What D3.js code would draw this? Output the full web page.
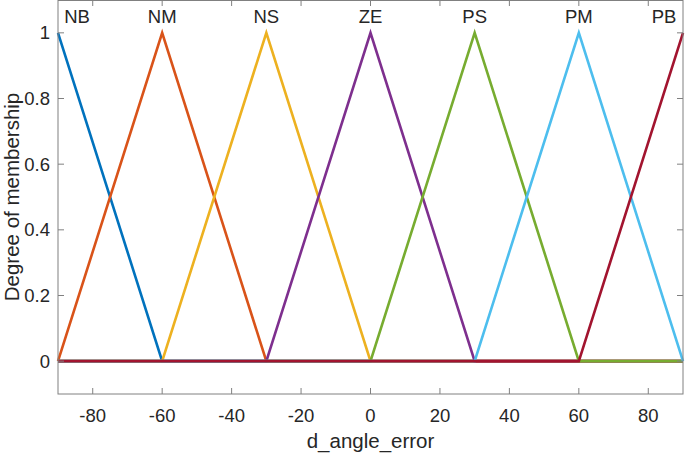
<!DOCTYPE html>
<html><head><meta charset="utf-8">
<script src="https://cdn.jsdelivr.net/npm/d3@7/dist/d3.min.js"></script>
<style>body{margin:0;background:#fff}text{font-family:"Liberation Sans",Arial,sans-serif;fill:#262626}</style>
</head><body><svg id="c" width="685" height="453"></svg>
<script>
const setNames = ["NB","NM","NS","ZE","PS","PM","PB"];
const setPeaks = [-90,-60,-30,0,30,60,90];
const colors = ["#0072BD","#D95319","#EDB120","#7E2F8E","#77AC30","#4DBEEE","#A2142F"];
// membership function vertices [x, degree]
const NB = [[-90,1],[-60,0],[90,0]];
const NM = [[-90,0],[-60,1],[-30,0],[90,0]];
const NS = [[-90,0],[-60,0],[-30,1],[0,0],[90,0]];
const ZE = [[-90,0],[-30,0],[0,1],[30,0],[90,0]];
const PS = [[-90,0],[0,0],[30,1],[60,0],[90,0]];
const PM = [[-90,0],[30,0],[60,1],[90,0]];
const PB = [[-90,0],[60,0],[90,1]];
const series = [NB,NM,NS,ZE,PS,PM,PB];
const xTicks = [-80,-60,-40,-20,0,20,40,60,80];
const yTicks = [0,0.2,0.4,0.6,0.8,1];

const L=58,R=683,T=0,B=394;
const x=d3.scaleLinear().domain([-90,90]).range([L,R]);
const y=d3.scaleLinear().domain([-0.1,1.1]).range([B,T]);
const svg=d3.select("#c");
const axCol="#808080";

const line=d3.line().x(d=>x(d[0])).y(d=>y(d[1]));
series.forEach((s,i)=>{
  svg.append("path").attr("d",line(s)).attr("fill","none").attr("stroke",colors[i]).attr("stroke-width",2.6).attr("stroke-linejoin","miter");
});

svg.append("rect").attr("x",L).attr("y",T+0.5).attr("width",R-L).attr("height",B-T-0.5).attr("fill","none").attr("stroke",axCol).attr("stroke-width",1);
const tl=6;
xTicks.forEach(t=>{
  svg.append("line").attr("x1",x(t)).attr("x2",x(t)).attr("y1",B).attr("y2",B-tl).attr("stroke",axCol);
  svg.append("line").attr("x1",x(t)).attr("x2",x(t)).attr("y1",T).attr("y2",T+tl).attr("stroke",axCol);
  svg.append("text").attr("x",x(t)).attr("y",B+28).attr("text-anchor","middle").attr("font-size",18.5).text(t);
});
yTicks.forEach(t=>{
  svg.append("line").attr("x1",L).attr("x2",L+tl).attr("y1",y(t)).attr("y2",y(t)).attr("stroke",axCol);
  svg.append("line").attr("x1",R).attr("x2",R-tl).attr("y1",y(t)).attr("y2",y(t)).attr("stroke",axCol);
  svg.append("text").attr("x",L-8).attr("y",y(t)).attr("dy","0.35em").attr("text-anchor","end").attr("font-size",18.5).text(t);
});
setNames.forEach((n,i)=>{
  const w=n.length*13;
  let cx=x(setPeaks[i]);
  cx=Math.max(L+w/2+6,Math.min(R-w/2-6,cx));
  svg.append("text").attr("x",cx).attr("y",y(1.05)).attr("dy","0.35em").attr("text-anchor","middle").attr("font-size",18.5).text(n);
});
svg.append("text").attr("x",(L+R)/2).attr("y",448).attr("text-anchor","middle").attr("font-size",20.5).text("d_angle_error");
svg.append("text").attr("transform","translate(19,"+(y(0.5))+") rotate(-90)").attr("text-anchor","middle").attr("font-size",20.5).text("Degree of membership");
</script></body></html>
